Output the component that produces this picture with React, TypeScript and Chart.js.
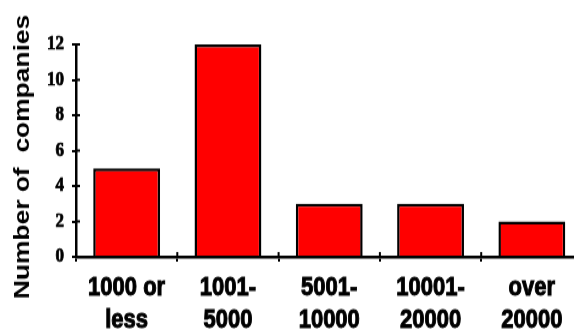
import React, { useEffect, useRef } from "react";
import { Chart, registerables } from "chart.js";

Chart.register(...registerables);

const categories: string[][] = [
  ["1000 or", "less"],
  ["1001-", "5000"],
  ["5001-", "10000"],
  ["10001-", "20000"],
  ["over", "20000"],
];
const companies: number[] = [5, 12, 3, 3, 2];
const yTicks: number[] = [0, 2, 4, 6, 8, 10, 12];
const yTitle = "Number of  companies \u2009";

const W = 600;
const H = 278;
const SY = 1.2;

const SANS = "'Liberation Sans', Arial, sans-serif";
const SERIF = "'Liberation Serif', 'Times New Roman', serif";

export default function App() {
  const ref = useRef<HTMLCanvasElement>(null);

  useEffect(() => {
    if (!ref.current) return;
    const innerTicks = {
      id: "innerTicks",
      afterDatasetsDraw(chart: any) {
        const ctx = chart.ctx;
        const xs = chart.scales.x;
        const ys = chart.scales.y;
        const area = chart.chartArea;
        ctx.save();
        ctx.strokeStyle = "#000";
        ctx.lineWidth = 2;
        ctx.beginPath();
        ys.ticks.forEach((t: any) => {
          const py = ys.getPixelForValue(t.value);
          ctx.moveTo(area.left, py);
          ctx.lineTo(area.left + 4, py);
        });
        const n = categories.length;
        const cw = (xs.right - xs.left) / n;
        for (let i = 1; i <= n; i++) {
          const px = xs.left + i * cw;
          ctx.moveTo(px, area.bottom);
          ctx.lineTo(px, area.bottom - 4);
        }
        ctx.stroke();
        ctx.restore();
      },
    };

    const chart = new Chart(ref.current, {
      type: "bar",
      data: {
        labels: categories,
        datasets: [
          {
            data: companies,
            backgroundColor: "#FF0000",
            borderColor: "#000000",
            borderWidth: 2.5,
            categoryPercentage: 1,
            barPercentage: 0.66,
          },
        ],
      },
      options: {
        responsive: false,
        animation: false,
        devicePixelRatio: 1,
        layout: { padding: { top: 37, right: 17.5, left: 0, bottom: 0 } },
        plugins: {
          legend: { display: false },
          tooltip: { enabled: false },
          title: { display: false },
        },
        scales: {
          x: {
            grid: {
              display: true,
              offset: true,
              drawOnChartArea: false,
              tickLength: 4,
              color: "#000",
              lineWidth: 2,
            },
            border: { color: "#000", width: 2.5 },
            ticks: {
              color: "#000",
              font: { family: SANS, size: 22, weight: "bold", lineHeight: 1.2 },
              textStrokeColor: "#000",
              textStrokeWidth: 0.9,
              padding: 9,
              maxRotation: 0,
              minRotation: 0,
              autoSkip: false,
            },
            afterFit(s: any) {
              s.height = 64;
            },
          },
          y: {
            min: 0,
            max: 12,
            afterBuildTicks(s: any) {
              s.ticks = yTicks.map((v) => ({ value: v }));
            },
            grid: {
              display: true,
              drawOnChartArea: false,
              tickLength: 4,
              color: "#000",
              lineWidth: 2,
            },
            border: { color: "#000", width: 2.5 },
            ticks: {
              color: "#000",
              font: { family: SERIF, size: 17, weight: "bold" },
              textStrokeColor: "#000",
              textStrokeWidth: 0.7,
              padding: 8,
            },
            title: {
              display: true,
              text: yTitle,
              color: "#000",
              font: { family: SANS, size: 22, weight: "bold", lineHeight: 1.2 },
              padding: { top: 10, bottom: 0 },
            },
            afterFit(s: any) {
              s.width = 76;
            },
          },
        },
      },
      plugins: [innerTicks],
    } as any);

    return () => chart.destroy();
  }, []);

  return (
    <div
      style={{
        position: "fixed",
        left: 0,
        top: 0,
        width: 574,
        height: 334,
        overflow: "hidden",
        background: "#fff",
      }}
    >
      <div
        style={{
          width: W,
          height: H,
          transform: `scale(1, ${SY})`,
          transformOrigin: "0 0",
        }}
      >
        <canvas ref={ref} width={W} height={H} />
      </div>
    </div>
  );
}
